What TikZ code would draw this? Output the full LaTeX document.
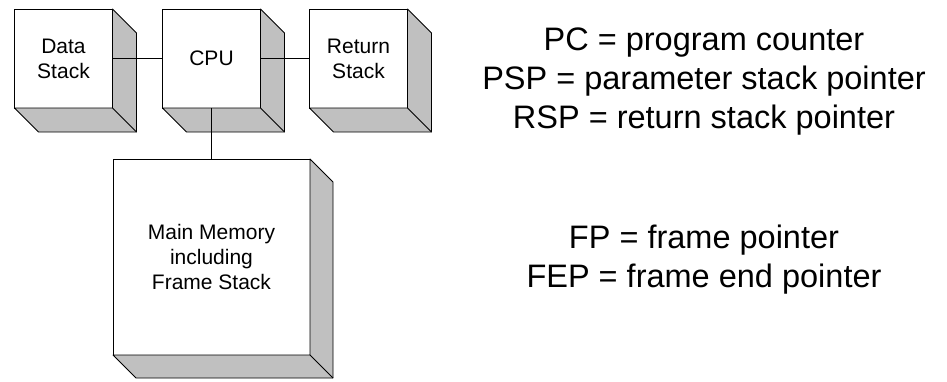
\documentclass[tikz,border=0pt]{standalone}
\usepackage{fontspec}
\setmainfont{Liberation Sans}
\usetikzlibrary{calc}
\definecolor{sidegray}{RGB}{192,192,192}
\newcommand\slabfaces[2]{%
  \filldraw[sideface] (#1.north east) -- ++(#2,#2) -- ($(#1.south east)+(#2,#2)$)
    -- ($(#1.south west)+(#2,#2)$) -- (#1.south west) -- (#1.south east) -- cycle;
  \draw[sideface] (#1.south east) -- ++(#2,#2);
}
\begin{document}
\begin{tikzpicture}[x=1pt,y=-1pt,
  front/.style={draw=black, fill=white, line width=0.8pt, inner sep=0pt, outer sep=0pt,
    align=center, font=\fontsize{21}{25}\selectfont},
  smallbox/.style={front, minimum width=98pt, minimum height=99pt},
  bigbox/.style={front, minimum width=197pt, minimum height=196pt},
  sideface/.style={draw=black, fill=sidegray, line width=0.8pt, line join=round},
  link/.style={draw=black, line width=0.8pt},
  legend/.style={anchor=base, inner sep=0pt, font=\fontsize{32.5}{39}\selectfont}]
\useasboundingbox (0,0) rectangle (947,381);

\node[smallbox] (ds) at (63.5,58.5) {Data\\Stack};
\node[smallbox] (cpu) at (211.5,58.5) {CPU};
\node[smallbox] (rs) at (358.5,58.5) {Return\\Stack};
\node[bigbox] (mem) at (211.5,257) {Main Memory\\including\\Frame Stack};

\slabfaces{ds}{24}
\slabfaces{cpu}{24}
\slabfaces{rs}{24}
\slabfaces{mem}{23}

\draw[link] (ds.east) -- (cpu.west);
\draw[link] (cpu.east) -- (rs.west);
\draw[link] (cpu.south) -- (mem.north);

\node[legend] (pc) at (704,50) {PC = program counter};
\node[legend] (psp) at (704,89) {PSP = parameter stack pointer};
\node[legend] (rsp) at (704,128) {RSP = return stack pointer};
\node[legend] (fp) at (704,248) {FP = frame pointer};
\node[legend] (fep) at (704,287) {FEP = frame end pointer};
\end{tikzpicture}
\end{document}
